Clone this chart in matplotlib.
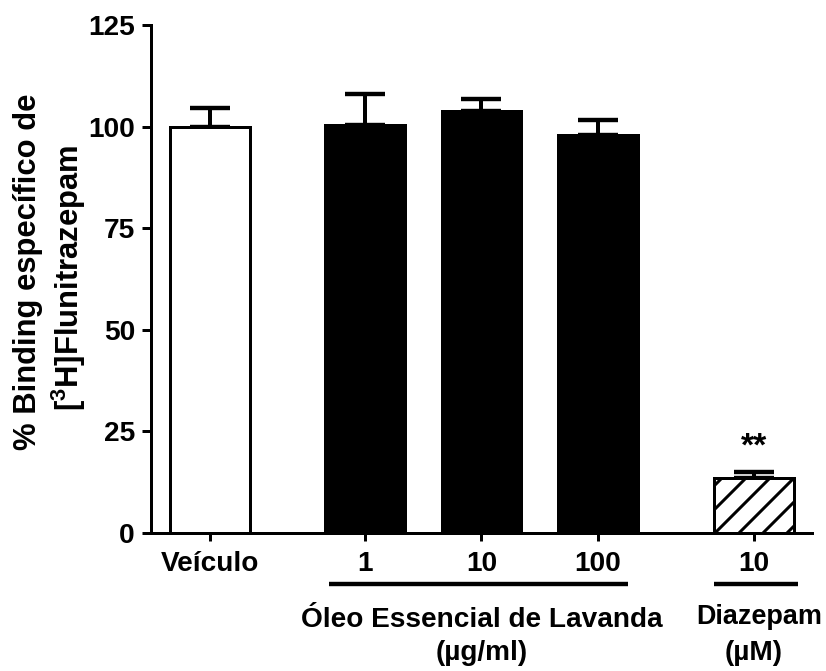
import numpy as np
import matplotlib
matplotlib.use('Agg')
import matplotlib.pyplot as plt
import matplotlib.transforms as mtransforms

plt.rcParams['font.family'] = ['Liberation Sans', 'DejaVu Sans']
plt.rcParams['font.weight'] = 'bold'
plt.rcParams['hatch.linewidth'] = 1.5
plt.rcParams['mathtext.fontset'] = 'custom'
plt.rcParams['mathtext.rm'] = 'Liberation Sans:bold'
plt.rcParams['mathtext.bf'] = 'Liberation Sans:bold'

# group data
labels = ['Veículo', '1', '10', '100', '10']
means = [100.0, 100.3, 103.9, 98.0, 13.6]
errs = [4.6, 7.7, 2.8, 3.6, 1.3]
positions = [0.0, 1.33, 2.33, 3.33, 4.67]
faces = ['white', 'black', 'black', 'black', 'white']
hatches = ['', '', '', '', '//']

fs = 14
lw = 1.5

fig = plt.figure(figsize=(826 / 144, 671 / 144), dpi=144)
ax = fig.add_axes([151 / 826, 1 - 533 / 671, (812 - 151) / 826, (533 - 25) / 671])

ax.bar(positions, means, width=0.68, color=faces, edgecolor='black',
       linewidth=lw, hatch=hatches, zorder=2)
ax.errorbar(positions, means, yerr=[np.zeros(len(errs)), errs], fmt='none',
            ecolor='black', elinewidth=2, capsize=10, capthick=2.2, zorder=1)

ax.set_xlim(-0.506, 5.167)
ax.set_ylim(0, 125)
ax.set_yticks([0, 25, 50, 75, 100, 125])
ax.set_xticks(positions)
ax.set_xticklabels(labels)
ax.tick_params(axis='both', labelsize=fs, width=lw, length=4.5, pad=3.5)
ax.tick_params(axis='x', length=4, pad=5)
for lab in ax.get_xticklabels() + ax.get_yticklabels():
    lab.set_fontweight('bold')

ax.spines['top'].set_visible(False)
ax.spines['right'].set_visible(False)
for s in ['left', 'bottom']:
    ax.spines[s].set_linewidth(lw)

# significance mark over the diazepam bar
ax.annotate('**', (positions[4], means[4] + errs[4]), xytext=(0, 5),
            textcoords='offset points', ha='center', va='bottom',
            fontsize=17, fontweight='bold')

# group underlines and group names below the x labels
trans = mtransforms.blended_transform_factory(ax.transData, ax.transAxes)
ax.plot([1.02, 3.59], [-0.1004, -0.1004], color='black', lw=2.2,
        transform=trans, clip_on=False, solid_capstyle='butt')
ax.plot([4.326, 5.047], [-0.1004, -0.1004], color='black', lw=2.2,
        transform=trans, clip_on=False, solid_capstyle='butt')
ax.text(2.33, -0.171, 'Óleo Essencial de Lavanda', transform=trans,
        ha='center', va='center', fontsize=fs, fontweight='bold')
ax.text(2.33, -0.236, '(µg/ml)', transform=trans,
        ha='center', va='center', fontsize=fs, fontweight='bold')
ax.text(4.71, -0.165, 'Diazepam', transform=trans,
        ha='center', va='center', fontsize=fs - 0.5, fontweight='bold')
ax.text(4.67, -0.236, '(µM)', transform=trans,
        ha='center', va='center', fontsize=fs, fontweight='bold')

# two-line y label
fig.text(36 / 826, 1 - 272 / 671, '% Binding específico de', rotation=90,
         rotation_mode='anchor', ha='center', va='baseline',
         fontsize=15.5, fontweight='bold')
fig.text(79 / 826, 1 - 278 / 671, r'[$\mathbf{^3}$H]Flunitrazepam', rotation=90,
         rotation_mode='anchor', ha='center', va='baseline',
         fontsize=15.5, fontweight='bold')

fig.savefig('out.png', dpi=144)
